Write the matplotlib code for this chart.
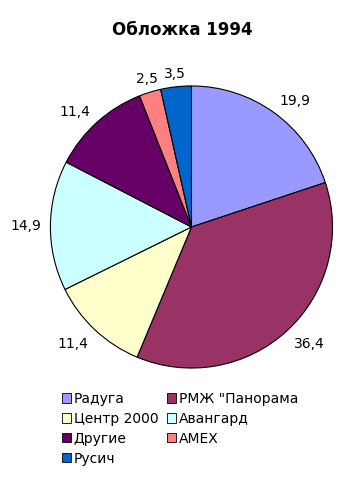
import numpy as np
import matplotlib.pyplot as plt
from matplotlib.patches import Patch

labels = ['Радуга', 'РМЖ "Панорама', 'Центр 2000', 'Авангард', 'Другие', 'AMEX', 'Русич']
values = [19.9, 36.4, 11.4, 14.9, 11.4, 2.5, 3.5]
colors = ['#9999FF', '#993366', '#FFFFCC', '#CCFFFF', '#660066', '#FF8080', '#0066CC']

fig = plt.figure(figsize=(3.64, 4.79), dpi=100)
ax = fig.add_axes([0.526 - 0.3875, 0.526 - 0.2944, 0.775, 0.589])

wedges, _ = ax.pie(values, colors=colors, startangle=90, counterclock=False,
                   wedgeprops=dict(edgecolor='black', linewidth=0.8))
ax.set_xlim(-1, 1)
ax.set_ylim(-1, 1)
ax.set_aspect('equal')

# value labels outside the pie, box corner touching the label radius
for w, v in zip(wedges, values):
    a = np.deg2rad((w.theta1 + w.theta2) / 2)
    c, s = np.cos(a), np.sin(a)
    ha = 'center' if abs(c) < 0.4 else ('left' if c > 0 else 'right')
    va = 'center' if abs(s) < 0.4 else ('baseline' if s > 0 else 'top')
    ax.text(1.065 * c, 1.065 * s, f'{v:.1f}'.replace('.', ','), ha=ha, va=va, fontsize=10)

fig.text(0.5, 1 - 30 / 479, 'Обложка 1994', ha='center', va='center',
         fontsize=12, fontweight='bold')

order = [0, 2, 4, 6, 1, 3, 5]
handles = [Patch(facecolor=colors[i], edgecolor='black', linewidth=0.6) for i in order]
fig.legend(handles, [labels[i] for i in order], ncol=2, loc='upper left',
           bbox_to_anchor=(62 / 364, 1 - 392 / 479), frameon=False, fontsize=10,
           handlelength=0.65, handleheight=0.65, handletextpad=0.2,
           columnspacing=0.6, labelspacing=0.42, borderaxespad=0, borderpad=0)

fig.savefig('out.png', dpi=100)
